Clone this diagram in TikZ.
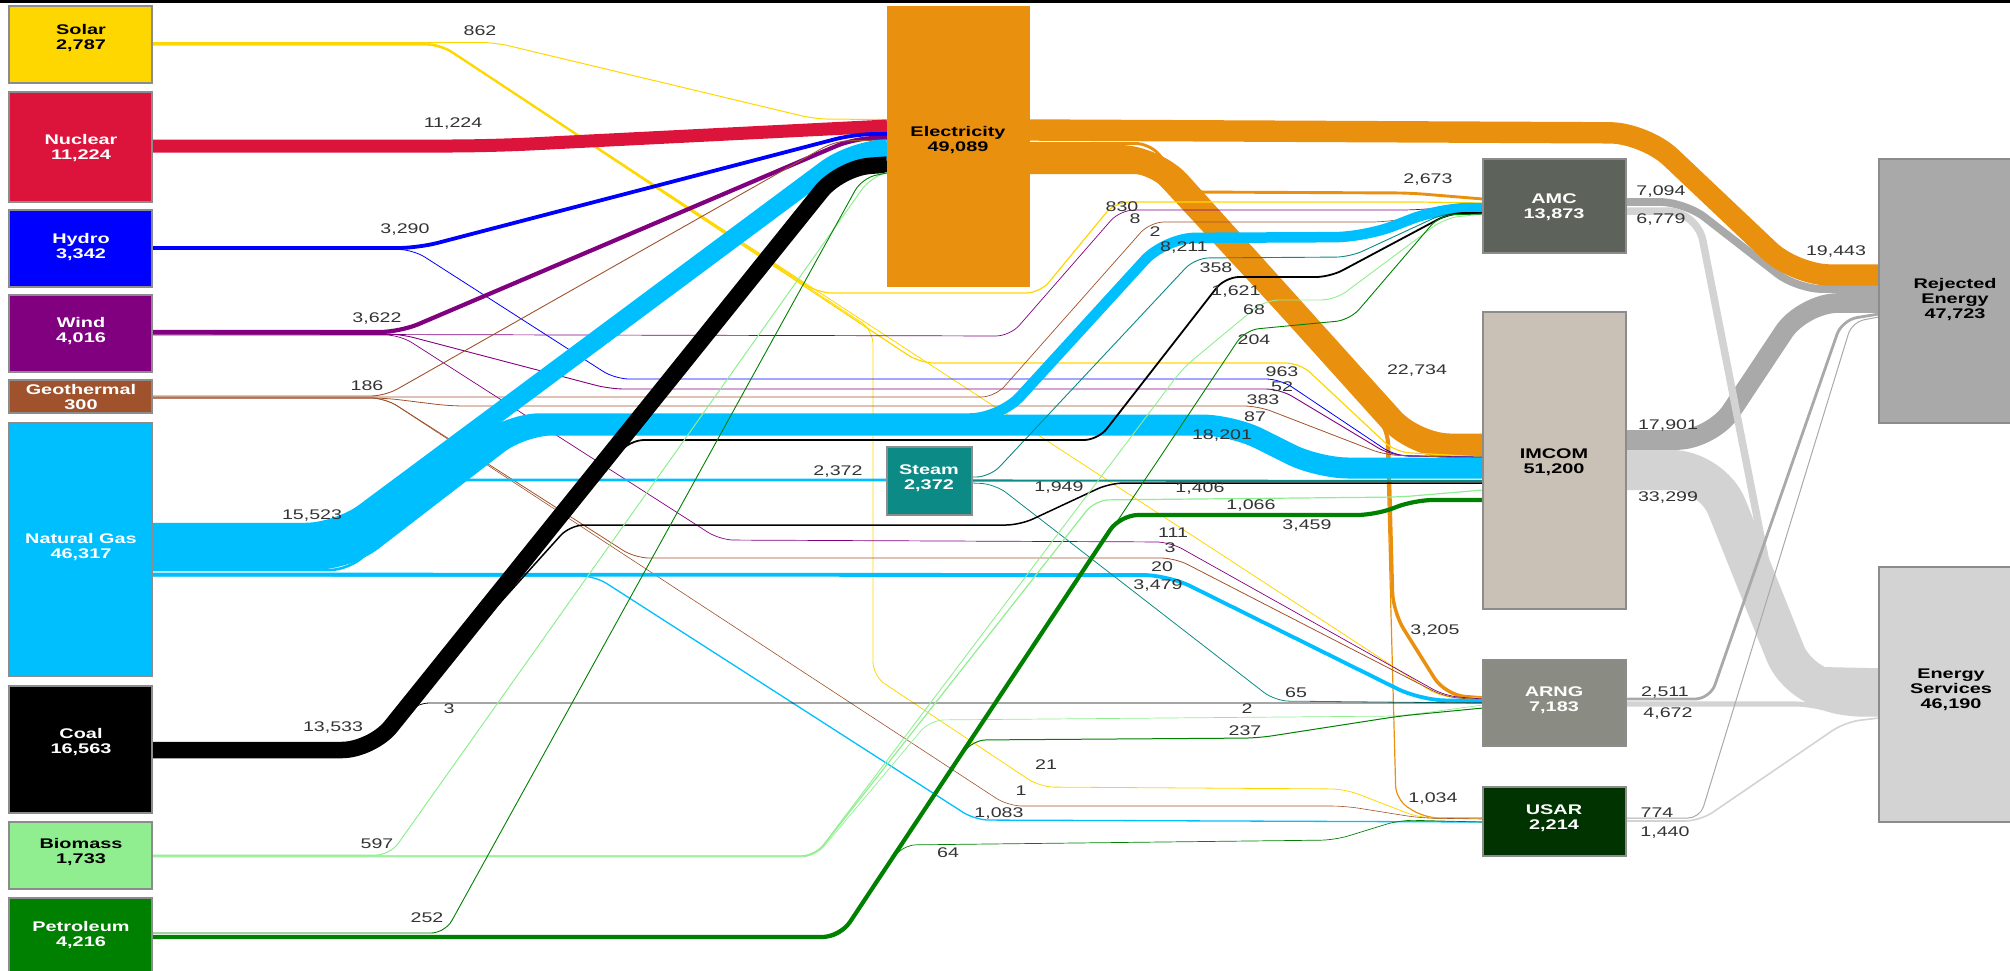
\documentclass[tikz,border=0pt]{standalone}
\usepackage{fontspec}
\newfontfamily\nodefont[FakeStretch=1.42]{Liberation Sans}
\newfontfamily\valfont[FakeStretch=1.4]{Liberation Sans}
\pgfdeclarelayer{bg}
\pgfsetlayers{bg,main}
\definecolor{solarc}{HTML}{FFD700}
\definecolor{nucc}{HTML}{DC143C}
\definecolor{hydc}{HTML}{0000FF}
\definecolor{windc}{HTML}{800080}
\definecolor{geoc}{HTML}{A0522D}
\definecolor{ngc}{HTML}{00BFFF}
\definecolor{coalc}{HTML}{000000}
\definecolor{bioc}{HTML}{90EE90}
\definecolor{petc}{HTML}{008000}
\definecolor{elecc}{HTML}{EA900F}
\definecolor{steamc}{HTML}{0B8A86}
\definecolor{amcc}{HTML}{5D635A}
\definecolor{imcomc}{HTML}{C9C1B6}
\definecolor{arngc}{HTML}{8A8C83}
\definecolor{usarc}{HTML}{003300}
\definecolor{rejc}{HTML}{A9A9A9}
\definecolor{esc}{HTML}{D3D3D3}
\definecolor{boxline}{HTML}{8C8C8C}
\definecolor{valc}{HTML}{333333}
\begin{document}
\begin{tikzpicture}[x=1pt,y=-1pt,
  box/.style={anchor=north west, inner sep=0pt, outer sep=0pt, draw=boxline, line width=1.2pt},
  sbox/.style={box, minimum width=143pt},
  nl/.style={font={\nodefont\bfseries\fontsize{14}{15}\selectfont}, align=center, inner sep=0pt},
  vl/.style={font={\valfont\fontsize{14}{15}\selectfont}, text=valc, inner sep=0pt},
  ln/.style 2 args={draw=#1, line width=#2, line cap=butt, line join=round, rounded corners=14pt},
  bd/.style n args={3}{draw=#1, line width=#2, line cap=butt, line join=round, rounded corners=#3}]
\useasboundingbox (0,0) rectangle (2010,970);
\fill[black] (0,0) rectangle (2010,2.5);

% ---------- nodes ----------
\node[sbox, fill=solarc,  minimum height=77pt]  (solar)   at (9,6) {};
\node[sbox, fill=nucc,    minimum height=110pt] (nuclear) at (9,92) {};
\node[sbox, fill=hydc,    minimum height=77pt]  (hydro)   at (9,210) {};
\node[sbox, fill=windc,   minimum height=77pt]  (wind)    at (9,295) {};
\node[sbox, fill=geoc,    minimum height=33pt]  (geo)     at (9,380) {};
\node[sbox, fill=ngc,     minimum height=253pt] (ng)      at (9,423) {};
\node[sbox, fill=coalc,   minimum height=127pt] (coal)    at (9,686) {};
\node[sbox, fill=bioc,    minimum height=67pt]  (bio)     at (9,822) {};
\node[sbox, fill=petc,    minimum height=80pt]  (pet)     at (9,898) {};
\node[box, draw=none, fill=elecc, minimum width=143pt, minimum height=281pt] (elec) at (887,6) {};
\node[box, fill=steamc, minimum width=85pt, minimum height=68pt] (steam) at (887,447) {};
\node[sbox, fill=amcc,   minimum height=94pt]  (amc)   at (1483,159) {};
\node[sbox, fill=imcomc, minimum height=297pt] (imcom) at (1483,312) {};
\node[sbox, fill=arngc,  minimum height=86pt]  (arng)  at (1483,660) {};
\node[sbox, fill=usarc,  minimum height=69pt]  (usar)  at (1483,787) {};
\node[box, fill=rejc, minimum width=140pt, minimum height=264pt] (rej) at (1879,159) {};
\node[box, fill=esc,  minimum width=140pt, minimum height=255pt] (es)  at (1879,567) {};

% ---------- node labels ----------
\node[nl, text=black] (solarT) at (81,38) {Solar\\2,787};
\node[nl, text=white] (nuclearT) at (81,148) {Nuclear\\11,224};
\node[nl, text=white] (hydroT) at (81,247) {Hydro\\3,342};
\node[nl, text=white] (windT) at (81,331) {Wind\\4,016};
\node[nl, text=white] (geoT) at (81,397) {Geothermal\\300};
\node[nl, text=white] (ngT) at (81,547) {Natural Gas\\46,317};
\node[nl, text=white] (coalT) at (81,742) {Coal\\16,563};
\node[nl, text=black] (bioT) at (81,852) {Biomass\\1,733};
\node[nl, text=white] (petT) at (81,935) {Petroleum\\4,216};
\node[nl, text=black] (elecT) at (958,140) {Electricity\\49,089};
\node[nl, text=white] (steamT) at (929,478) {Steam\\2,372};
\node[nl, text=white] (amcT) at (1554,207) {AMC\\13,873};
\node[nl, text=black] (imcomT) at (1554,462) {IMCOM\\51,200};
\node[nl, text=white] (arngT) at (1554,700) {ARNG\\7,183};
\node[nl, text=white] (usarT) at (1554,818) {USAR\\2,214};
\node[nl, text=black] (rejT) at (1955,300) {Rejected\\Energy\\47,723};
\node[nl, text=black] (esT) at (1951,690) {Energy\\Services\\46,190};

% ---------- links ----------
\begin{pgfonlayer}{bg}
% sinks
\draw[bd={rejc}{7.8pt}{25pt}] (amc.east|-0,202) -- (1685,202) -- (1797,289) -- (rej.west|-0,289);
\draw[bd={rejc}{19.7pt}{35pt}] (imcom.east|-0,440) -- (1712,440) -- (1803,303) -- (rej.west|-0,303);
\draw[bd={esc}{7.5pt}{30pt}] (amc.east|-0,211) -- (1697,211) -- (1787,670) -- (es.west|-0,672);
\draw[bd={esc}{40pt}{40pt}] (imcom.east|-0,470) -- (1712,470) -- (1800,690) -- (es.west|-0,694);
\draw[bd={esc}{5.1pt}{15pt}] (arng.east|-0,704) -- (1810,704) -- (1845,714) -- (es.west|-0,714);
\draw[bd={esc}{1.6pt}{15pt}] (usar.east|-0,821) -- (1700,821) -- (1845,722) -- (es.west|-0,718);
\draw[bd={rejc}{2.8pt}{15pt}] (arng.east|-0,699) -- (1710,699) -- (1842,320) -- (rej.west|-0,314);
\draw[bd={rejc}{1pt}{12pt}] (usar.east|-0,818) -- (1700,818) -- (1852,322) -- (rej.west|-0,317);
% electricity out
\draw[bd={elecc}{21.4pt}{35pt}] (elec.east|-0,130) -- (1645,133) -- (1795,275) -- (rej.west|-0,275);
\draw[bd={elecc}{25pt}{35pt}] (elec.east|-0,157.5) -- (1155,157.5) -- (1415,446) -- (imcom.west|-0,446);
\draw[ln={elecc}{2.9pt}] (elec.east|-0,143.5) -- (1150,143.5) -- (1190,192) -- (1410,193) -- (amc.west|-0,199);
\draw[bd={elecc}{3.5pt}{20pt}] (elec.east|-0,171.5) -- (1150,171.5) -- (1388,425) -- (1393,612) -- (1445,695) -- (arng.west|-0,698);
\draw[ln={elecc}{1.2pt}] (elec.east|-0,173.5) -- (1150,173.5) -- (1386,428) -- (1396,800) -- (1425,818) -- (usar.west|-0,818);
% solar
\draw[ln={solarc}{1pt}] (solar.east|-0,42.5) -- (495,42.5) -- (815,119) -- (elec.west|-0,119.5);
\draw[ln={solarc}{1.2pt}] (solar.east|-0,43.5) -- (440,43.5) -- (818,293) -- (1040,293) -- (1115,202) -- (1420,202) -- (amc.west|-0,203);
\draw[ln={solarc}{1.2pt}] (solar.east|-0,44.5) -- (440,44.5) -- (920,363) -- (1300,363) -- (1395,452) -- (imcom.west|-0,457);
\draw[ln={solarc}{0.8pt}] (solar.east|-0,45) -- (440,45) -- (1440,697) -- (arng.west|-0,698);
\draw[ln={solarc}{0.8pt}] (solar.east|-0,45) -- (440,45) -- (873,330) -- (873,676) -- (1040,787) -- (1345,789) -- (1420,818) -- (usar.west|-0,818);
% nuclear
\draw[bd={nucc}{13pt}{40pt}] (nuclear.east|-0,146) -- (490,146) -- (elec.west|-0,126);
% hydro
\draw[bd={hydc}{3.8pt}{20pt}] (hydro.east|-0,248) -- (418,248) -- (855,134) -- (elec.west|-0,134);
\draw[ln={hydc}{0.8pt}] (hydro.east|-0,249.5) -- (413,249.5) -- (615,379) -- (1280,379) -- (1395,456) -- (imcom.west|-0,457);
% wind
\draw[bd={windc}{4.2pt}{20pt}] (wind.east|-0,332) -- (400,332) -- (855,138) -- (elec.west|-0,138);
\draw[ln={windc}{0.7pt}] (wind.east|-0,334) -- (1010,336) -- (1120,210) -- (1415,210) -- (amc.west|-0,204);
\draw[ln={windc}{0.9pt}] (wind.east|-0,334) -- (400,334) -- (610,389) -- (1280,389) -- (1390,455) -- (imcom.west|-0,458);
\draw[ln={windc}{0.7pt}] (wind.east|-0,335) -- (400,335) -- (720,540) -- (1170,542) -- (1445,696) -- (arng.west|-0,699);
% geothermal
\draw[ln={geoc}{0.9pt}] (geo.east|-0,396) -- (385,396) -- (835,141) -- (elec.west|-0,140);
\draw[ln={geoc}{0.7pt}] (geo.east|-0,397) -- (995,397) -- (1150,222) -- (1385,222) -- (amc.west|-0,206);
\draw[ln={geoc}{0.8pt}] (geo.east|-0,398) -- (385,398) -- (450,406) -- (1258,406) -- (1385,455) -- (imcom.west|-0,458);
\draw[ln={geoc}{0.8pt}] (geo.east|-0,398) -- (385,398) -- (635,558) -- (1175,558) -- (1445,697) -- (arng.west|-0,700);
\draw[ln={geoc}{0.6pt}] (geo.east|-0,398) -- (385,398) -- (1008,806) -- (1345,806) -- (1420,818) -- (usar.west|-0,819);
% natural gas
\draw[bd={ngc}{21pt}{30pt}] (ng.east|-0,559) -- (348,559) -- (522,425) -- (1232,425) -- (1318,468) -- (imcom.west|-0,468);
\draw[bd={ngc}{10.5pt}{30pt}] (ng.east|-0,545) -- (342,545) -- (510,418.5) -- (1000,418.5) -- (1165,238) -- (1365,237) -- (1440,208) -- (amc.west|-0,208);
\draw[bd={ngc}{18.5pt}{32pt}] (ng.east|-0,532) -- (338,532) -- (852,150) -- (elec.west|-0,148.6);
\draw[bd={ngc}{2.6pt}{20pt}] (ng.east|-0,570) -- (350,570) -- (440,480) -- (steam.west|-0,480);
\draw[bd={ngc}{3.8pt}{25pt}] (ng.east|-0,574.5) -- (1168,575) -- (1420,700) -- (arng.west|-0,701);
\draw[ln={ngc}{1.3pt}] (ng.east|-0,576) -- (595,576) -- (975,820) -- (usar.west|-0,822);
% steam
\draw[ln={steamc}{0.9pt}] (steam.east|-0,477) -- (990,477) -- (1195,258) -- (1350,257) -- (1445,213) -- (amc.west|-0,213);
\draw[ln={steamc}{2.1pt}] (steam.east|-0,480.5) -- (imcom.west|-0,481);
\draw[ln={steamc}{0.8pt}] (steam.east|-0,483) -- (995,484) -- (1275,701) -- (arng.west|-0,703);
% coal
\draw[bd={coalc}{16.5pt}{30pt}] (coal.east|-0,750) -- (372,750) -- (840,168) -- (elec.west|-0,164.6);
\draw[ln={coalc}{1.8pt}] (coal.east|-0,743) -- (370,743) -- (630,440) -- (1098,440) -- (1225,277) -- (1330,277) -- (1450,213) -- (amc.west|-0,213);
\draw[ln={coalc}{1.5pt}] (coal.east|-0,745) -- (372,745) -- (570,525) -- (1020,525) -- (1110,483) -- (imcom.west|-0,483);
\draw[ln={coalc}{0.8pt}] (coal.east|-0,752) -- (372,752) -- (415,703) -- (arng.west|-0,703);
% biomass
\draw[ln={bioc}{1pt}] (bio.east|-0,855) -- (390,855) -- (870,178) -- (elec.west|-0,172.4);
\draw[ln={bioc}{0.9pt}] (bio.east|-0,856) -- (815,856) -- (1183,368) -- (1265,300) -- (1335,300) -- (1445,218) -- (amc.west|-0,214);
\draw[ln={bioc}{1.2pt}] (bio.east|-0,856) -- (815,856) -- (1095,500) -- (1400,497) -- (imcom.west|-0,490);
\draw[ln={bioc}{0.7pt}] (bio.east|-0,857) -- (815,857) -- (930,720) -- (1400,716) -- (arng.west|-0,705);
% petroleum
\draw[ln={petc}{0.9pt}] (pet.east|-0,933) -- (445,933) -- (862,178) -- (elec.west|-0,173);
\draw[bd={petc}{4.2pt}{18pt}] (pet.east|-0,937) -- (840,937) -- (1120,515) -- (1375,515) -- (1415,500) -- (imcom.west|-0,500);
\draw[ln={petc}{0.9pt}] (pet.east|-0,936) -- (840,936) -- (1245,330) -- (1350,320) -- (1440,215) -- (amc.west|-0,214);
\draw[ln={petc}{1pt}] (pet.east|-0,937) -- (840,937) -- (972,740) -- (1258,738) -- (1400,716) -- (arng.west|-0,708);
\draw[ln={petc}{0.7pt}] (pet.east|-0,938) -- (840,938) -- (902,845) -- (1335,840) -- (1400,820) -- (usar.west|-0,822);
\end{pgfonlayer}

% ---------- value labels ----------
\node[vl] (v01) at (480,31) {862};
\node[vl] (v02) at (453,124) {11,224};
\node[vl] (v03) at (405,230) {3,290};
\node[vl] (v04) at (377,318) {3,622};
\node[vl] (v05) at (367,386) {186};
\node[vl] (v06) at (312,515) {15,523};
\node[vl] (v07) at (333,727) {13,533};
\node[vl] (v08) at (449,709) {3};
\node[vl] (v09) at (377,844) {597};
\node[vl] (v10) at (427,918) {252};
\node[vl] (v11) at (838,471) {2,372};
\node[vl] (v12) at (1122,207) {830};
\node[vl] (v13) at (1135,219) {8};
\node[vl] (v14) at (1155,232) {2};
\node[vl] (v15) at (1184,248) {8,211};
\node[vl] (v16) at (1216,268) {358};
\node[vl] (v17) at (1236,292) {1,621};
\node[vl] (v18) at (1254,310) {68};
\node[vl] (v19) at (1254,340) {204};
\node[vl] (v20) at (1282,372) {963};
\node[vl] (v21) at (1282,387) {52};
\node[vl] (v22) at (1263,400) {383};
\node[vl] (v23) at (1255,417) {87};
\node[vl] (v24) at (1222,435) {18,201};
\node[vl] (v25) at (1417,370) {22,734};
\node[vl] (v26) at (1428,180) {2,673};
\node[vl] (v27) at (1059,487) {1,949};
\node[vl] (v28) at (1200,488) {1,406};
\node[vl] (v29) at (1251,505) {1,066};
\node[vl] (v30) at (1307,525) {3,459};
\node[vl] (v31) at (1173,533) {111};
\node[vl] (v32) at (1170,548) {3};
\node[vl] (v33) at (1162,567) {20};
\node[vl] (v34) at (1158,585) {3,479};
\node[vl] (v35) at (1435,630) {3,205};
\node[vl] (v36) at (1296,693) {65};
\node[vl] (v37) at (1247,709) {2};
\node[vl] (v38) at (1245,731) {237};
\node[vl] (v39) at (1046,765) {21};
\node[vl] (v40) at (1021,791) {1};
\node[vl] (v41) at (999,813) {1,083};
\node[vl] (v42) at (948,853) {64};
\node[vl] (v43) at (1433,798) {1,034};
\node[vl] (v44) at (1661,192) {7,094};
\node[vl] (v45) at (1661,220) {6,779};
\node[vl] (v46) at (1836,252) {19,443};
\node[vl] (v47) at (1668,425) {17,901};
\node[vl] (v48) at (1668,497) {33,299};
\node[vl] (v49) at (1665,692) {2,511};
\node[vl] (v50) at (1668,713) {4,672};
\node[vl] (v51) at (1657,813) {774};
\node[vl] (v52) at (1665,832) {1,440};
\end{tikzpicture}
\end{document}
